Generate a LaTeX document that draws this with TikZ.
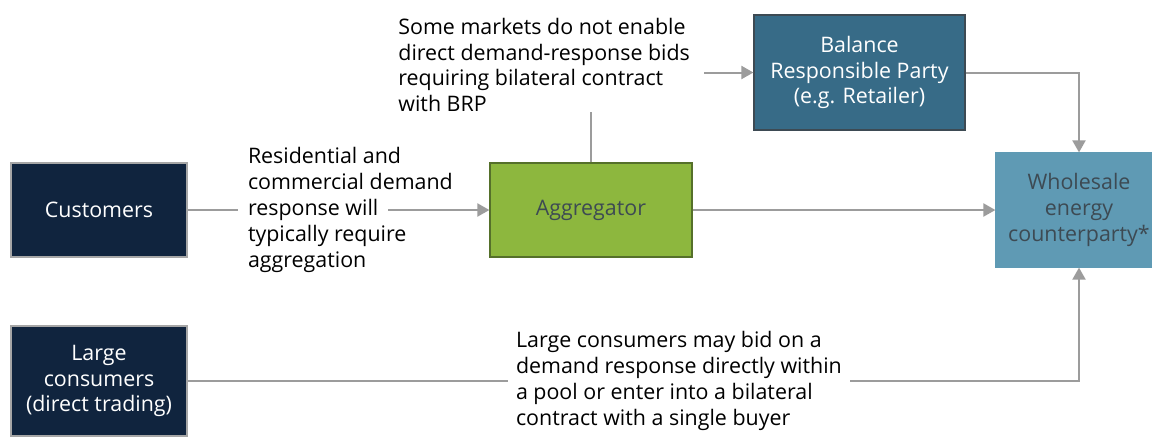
\documentclass[tikz,border=0pt]{standalone}
\usepackage{fontspec}
\setmainfont{Open Sans}
\usepackage{tikz}
\usetikzlibrary{arrows.meta}
\usetikzlibrary{positioning}

\definecolor{navy}{HTML}{10243E}
\definecolor{leaf}{HTML}{8DB73E}
\definecolor{leafdark}{HTML}{55702A}
\definecolor{petrol}{HTML}{376B87}
\definecolor{sky}{HTML}{5F9AB4}
\definecolor{slate}{HTML}{3D4A53}
\definecolor{wire}{HTML}{9C9C9C}

% white patch so a connector stops short of one line of text
\newcommand{\knock}[1]{{\setlength{\fboxsep}{5pt}\hspace*{-5pt}\smash{\colorbox{white}{#1}}}}

\tikzset{
    box/.style={rectangle, draw=#1, line width=0.6pt, text=white, align=center, inner sep=2pt},
    note/.style={rectangle, align=left, inner sep=0pt, text=black},
    link/.style={draw=wire, line width=1pt, -{Triangle[length=6pt, width=6.5pt]}},
    plain/.style={draw=wire, line width=1pt}
}

\begin{document}
\begin{tikzpicture}[x=0.5pt, y=-0.5pt, font=\fontsize{10.7}{12.9}\selectfont]
    \fill[white] (0,0) rectangle (1152,436);
    \useasboundingbox (0,0) rectangle (1152,436);

    \node [box=gray!70, fill=navy, minimum width=88pt, minimum height=47pt] (cust) at (99,210) {Customers};
    \node [box=gray!70, fill=navy, minimum width=88pt, minimum height=55pt] (large) at (99,381) {Large\\consumers\\(direct trading)};
    \node [box=leafdark, fill=leaf, text=slate, minimum width=101pt, minimum height=47pt] (aggr) at (591,210) {Aggregator};
    \node [box=slate, fill=petrol, minimum width=105.5pt, minimum height=57.5pt] (brp) at (859.5,72.5) {Balance\\Responsible Party\\(e.g. Retailer)};
    \node [box=sky, fill=sky, text=slate, minimum width=83pt, minimum height=57pt] (whole) at (1079,210) {Wholesale\\energy\\counterparty*};

    \draw [link] (cust) -- (aggr);
    \draw [link] (aggr) |- (brp);
    \draw [link] (aggr) -- (whole);
    \draw [link] (brp) -| (whole);
    \draw [link] (large) -| (whole);

    \node [note, right=30pt of cust] (resp) {Residential and\\commercial demand\\\knock{response will}\\typically require\\aggregation};
    \node [note, fill=white, inner xsep=7pt, anchor=west] (mkt) at (384,65) {Some markets do not enable\\direct demand-response bids\\requiring bilateral contract\\with BRP};
    \node [note, fill=white, inner xsep=4pt, right=160pt of large] (big) {Large consumers may bid on a\\demand response directly within\\a pool or enter into a bilateral\\contract with a single buyer};
\end{tikzpicture}
\end{document}
